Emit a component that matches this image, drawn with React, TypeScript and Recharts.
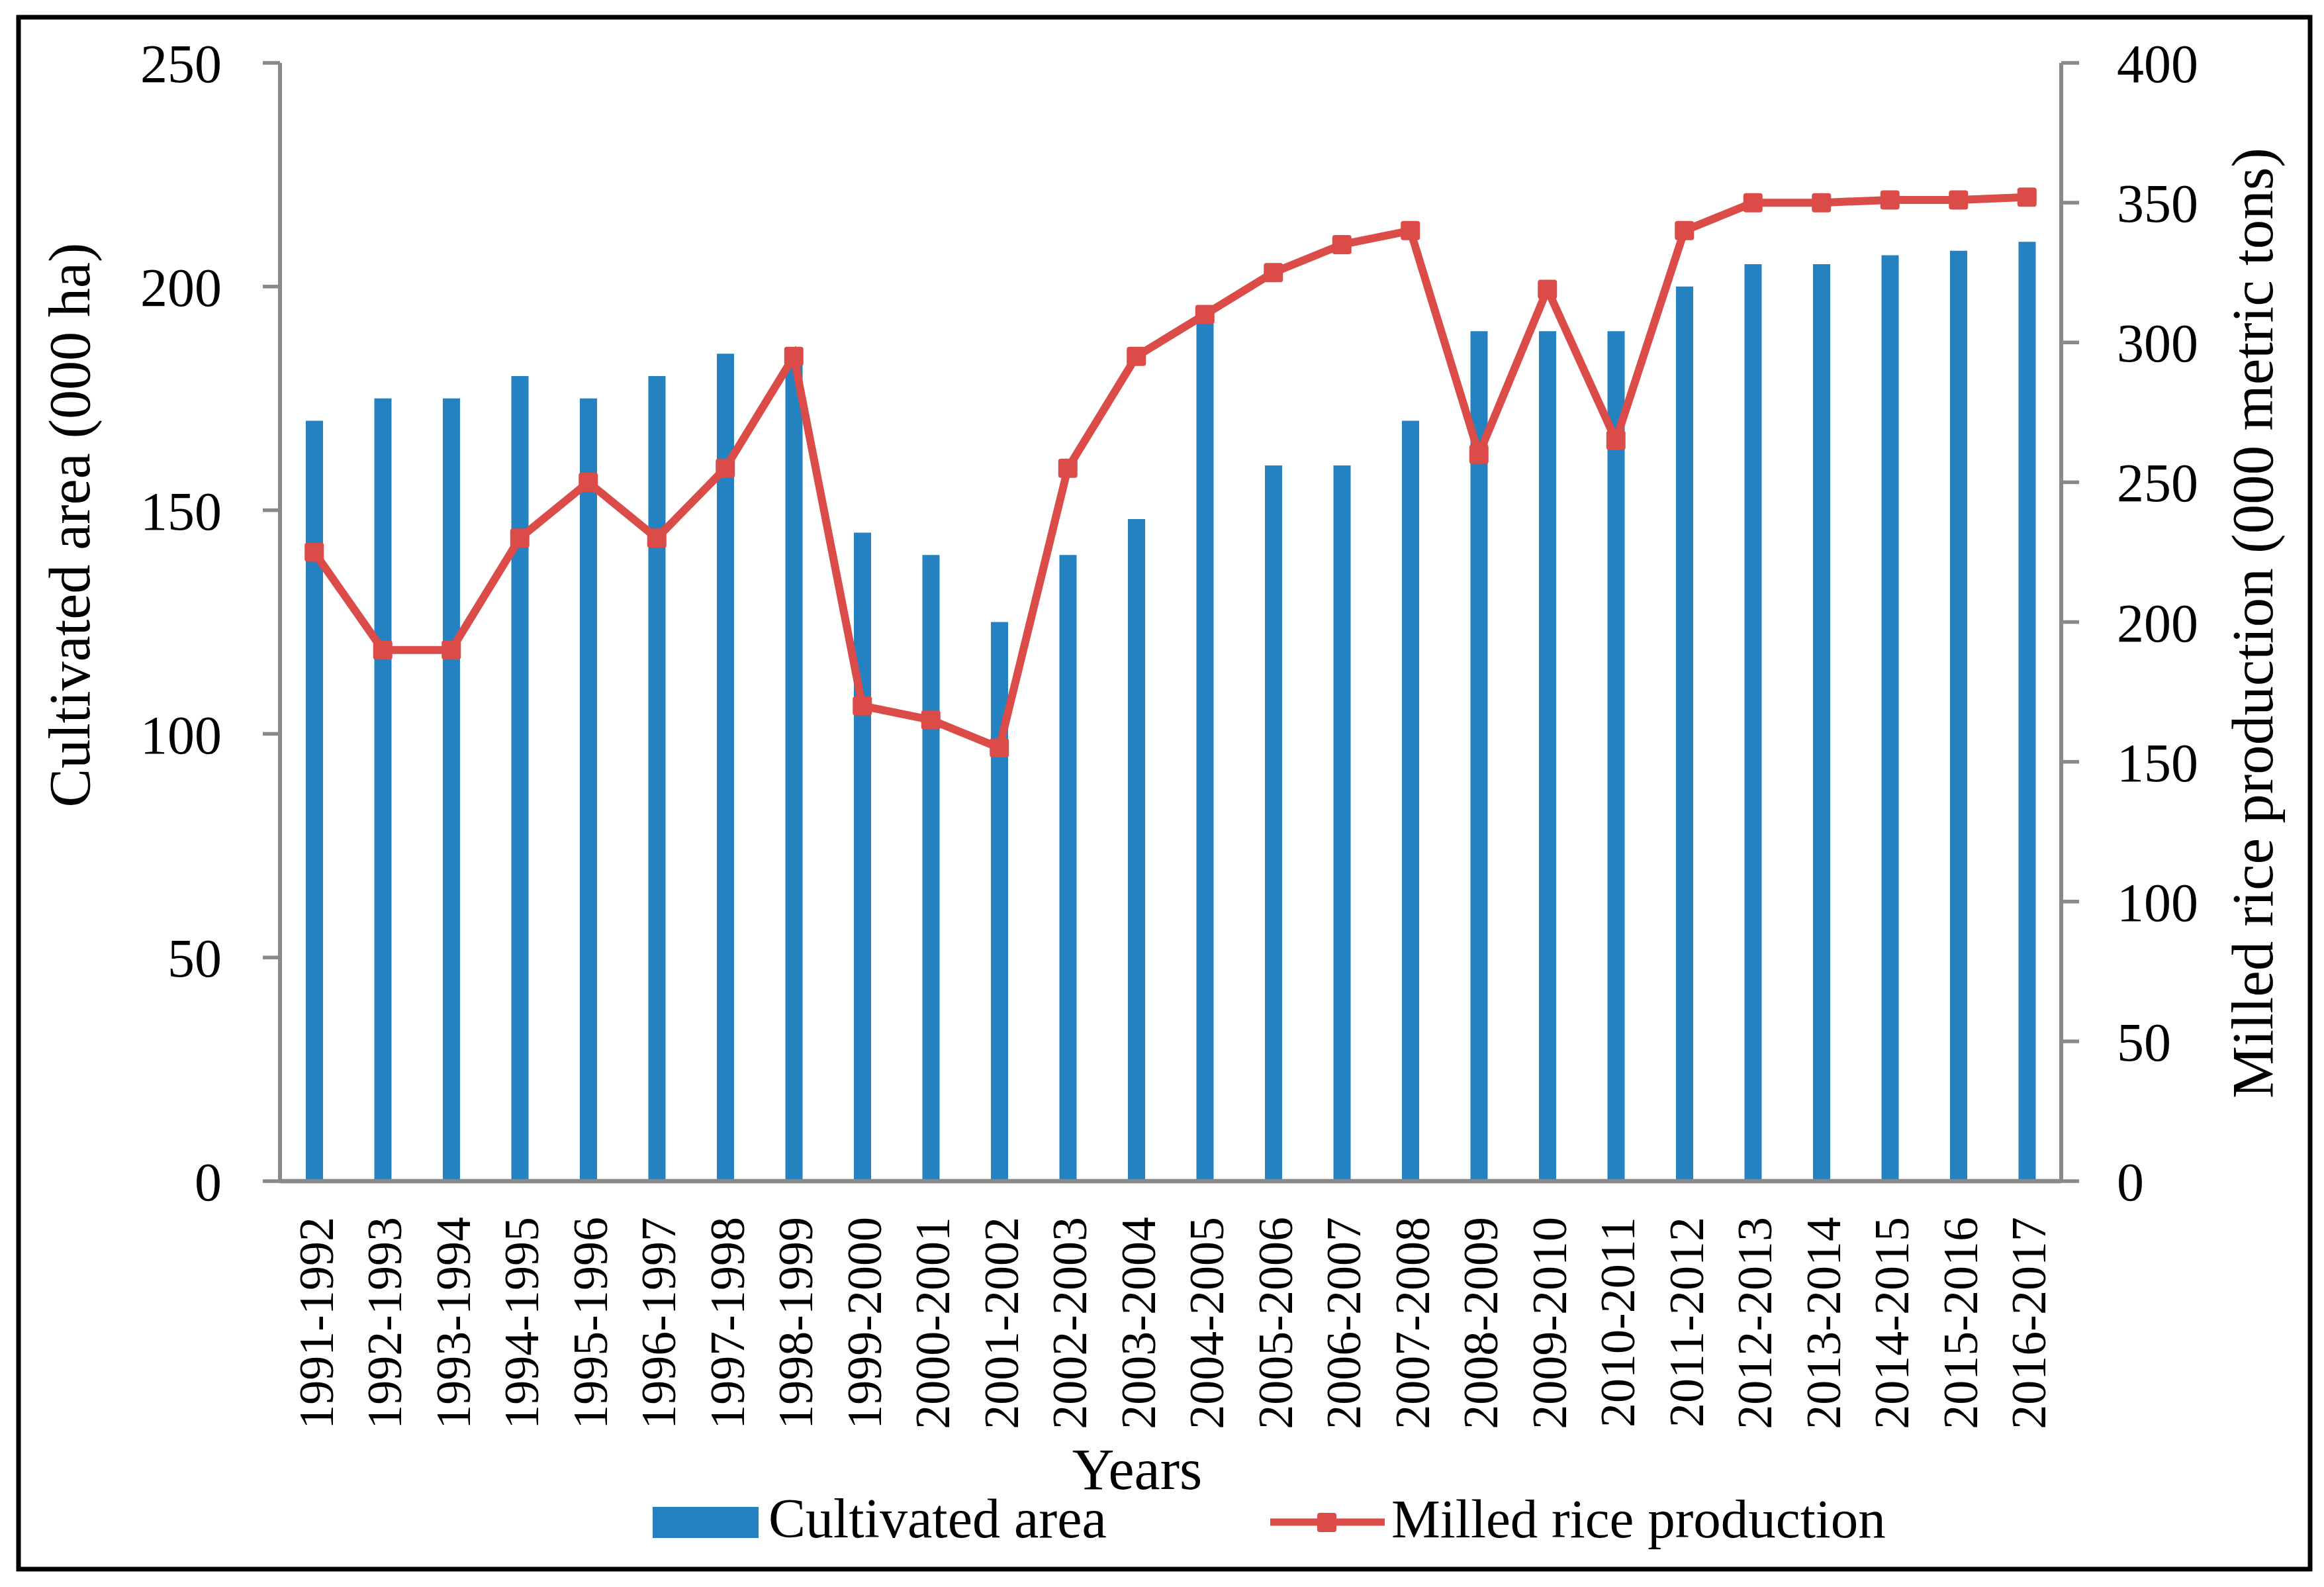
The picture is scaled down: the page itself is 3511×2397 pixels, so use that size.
import React from 'react';
import { ComposedChart, Bar, Line, XAxis, YAxis } from 'recharts';

// Seasons on the category axis
const seasons = [
  '1991-1992', '1992-1993', '1993-1994', '1994-1995', '1995-1996', '1996-1997',
  '1997-1998', '1998-1999', '1999-2000', '2000-2001', '2001-2002', '2002-2003',
  '2003-2004', '2004-2005', '2005-2006', '2006-2007', '2007-2008', '2008-2009',
  '2009-2010', '2010-2011', '2011-2012', '2012-2013', '2013-2014', '2014-2015',
  '2015-2016', '2016-2017',
];

// Cultivated area (000 ha), left axis
const cultivatedArea = [
  170, 175, 175, 180, 175, 180, 185, 185, 145, 140, 125, 140, 148,
  193, 160, 160, 170, 190, 190, 190, 200, 205, 205, 207, 208, 210,
];

// Milled rice production (000 metric tons), right axis
const milledRice = [
  225, 190, 190, 230, 250, 230, 255, 295, 170, 165, 155, 255, 295,
  310, 325, 335, 340, 260, 319, 265, 340, 350, 350, 351, 351, 352,
];

const leftTicks = [0, 50, 100, 150, 200, 250];
const rightTicks = [0, 50, 100, 150, 200, 250, 300, 350, 400];

const W = 3511;
const H = 2397;
const FONT = "'Liberation Serif', 'Times New Roman', serif";
const BLUE = '#2582c1';
const RED = '#db4b48';
const GRAY = '#898989';

const rows = seasons.map((season, i) => ({
  season,
  area: cultivatedArea[i],
  production: milledRice[i],
}));

function SeasonTick({ x, y, payload }: any) {
  return (
    <text
      x={x}
      y={y}
      dy={28}
      transform={`rotate(-90, ${x}, ${y})`}
      textAnchor="end"
      fontSize={74}
      fontFamily={FONT}
      fill="#000"
    >
      {payload.value}
    </text>
  );
}

function SquareDot({ cx, cy }: any) {
  if (cx == null || cy == null) return null;
  return <rect x={cx - 14.5} y={cy - 14.5} width={29} height={29} rx={4} fill={RED} />;
}

export default function App() {
  const tickStyle = { fill: '#000', fontSize: 82, fontFamily: FONT };
  return (
    <div style={{ position: 'absolute', left: 0, top: 0, width: W, height: H, background: '#fff' }}>
      <ComposedChart
        width={W}
        height={H}
        data={rows}
        margin={{ top: 95, right: 0, bottom: 0, left: 0 }}
      >
        <XAxis
          dataKey="season"
          interval={0}
          height={613}
          tickLine={false}
          tickSize={0}
          tickMargin={54}
          axisLine={{ stroke: GRAY, strokeWidth: 6.5 }}
          tick={<SeasonTick />}
        />
        <YAxis
          yAxisId="left"
          orientation="left"
          width={423}
          domain={[0, 250]}
          ticks={leftTicks}
          interval={0}
          tickSize={26}
          tickMargin={62}
          axisLine={{ stroke: GRAY, strokeWidth: 6 }}
          tickLine={{ stroke: GRAY, strokeWidth: 5.5 }}
          tick={tickStyle}
        />
        <YAxis
          yAxisId="right"
          orientation="right"
          width={397}
          domain={[0, 400]}
          ticks={rightTicks}
          interval={0}
          tickSize={27}
          tickMargin={57}
          axisLine={{ stroke: GRAY, strokeWidth: 6 }}
          tickLine={{ stroke: GRAY, strokeWidth: 5.5 }}
          tick={tickStyle}
        />
        <Bar yAxisId="left" dataKey="area" fill={BLUE} barSize={26} isAnimationActive={false} />
        <Line
          yAxisId="right"
          dataKey="production"
          stroke={RED}
          strokeWidth={12}
          dot={<SquareDot />}
          activeDot={false}
          isAnimationActive={false}
        />
      </ComposedChart>

      {/* titles, legend and frame */}
      <svg
        width={W}
        height={H}
        style={{ position: 'absolute', left: 0, top: 0, pointerEvents: 'none' }}
      >
        <rect x={28} y={26} width={3462} height={2344} fill="none" stroke="#000" strokeWidth={7} />
        <text
          x={135}
          y={793}
          transform="rotate(-90, 135, 793)"
          textAnchor="middle"
          fontSize={88}
          fontFamily={FONT}
          fill="#000"
        >
          Cultivated area (000 ha)
        </text>
        <text
          x={3433}
          y={941}
          transform="rotate(-90, 3433, 941)"
          textAnchor="middle"
          fontSize={89}
          fontFamily={FONT}
          fill="#000"
        >
          Milled rice production (000 metric tons)
        </text>
        <text x={1718} y={2249} textAnchor="middle" fontSize={88} fontFamily={FONT} fill="#000">
          Years
        </text>

        <rect x={986} y={2276} width={160} height={47} fill={BLUE} />
        <text x={1161} y={2322} fontSize={84} fontFamily={FONT} fill="#000">
          Cultivated area
        </text>
        <line x1={1919} y1={2299} x2={2092} y2={2299} stroke={RED} strokeWidth={11} />
        <rect x={1990} y={2285} width={29} height={29} rx={4} fill={RED} />
        <text x={2102} y={2322} fontSize={83} fontFamily={FONT} fill="#000">
          Milled rice production
        </text>
      </svg>
    </div>
  );
}
